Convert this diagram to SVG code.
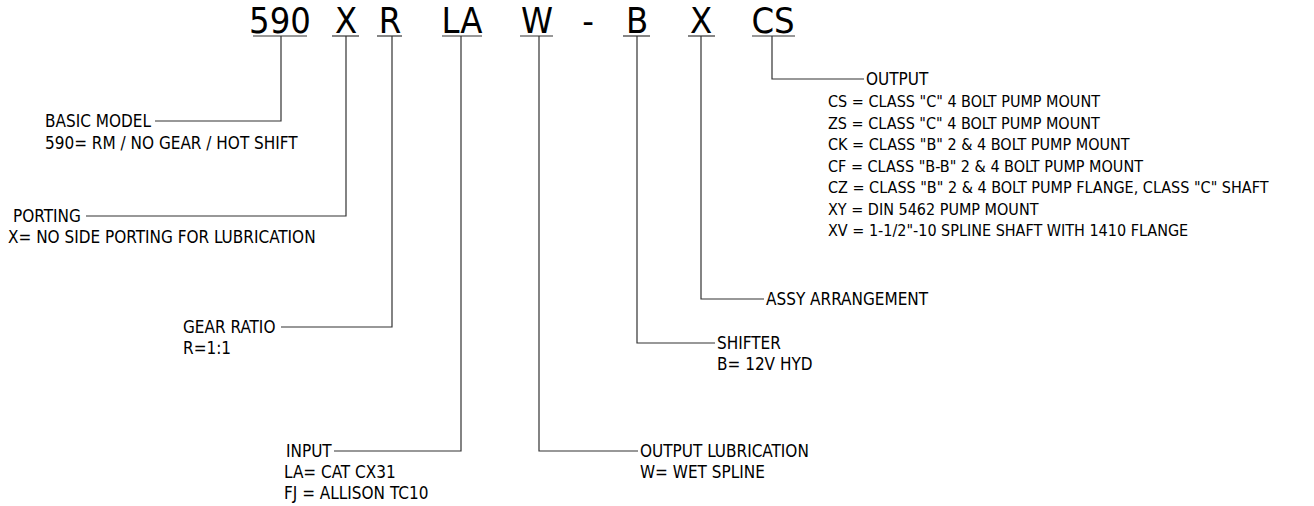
<svg xmlns="http://www.w3.org/2000/svg" width="1314" height="506" viewBox="0 0 1314 506">
<style>
text{font-family:"DejaVu Sans Condensed","DejaVu Sans",sans-serif;fill:#000}
.code{font-size:36px;text-anchor:middle}
.lbl{font-size:17px}
.out{font-size:16px}
.ln{fill:none;stroke:#333;stroke-width:1.2}
</style>
<rect width="1314" height="506" fill="#fff"/>
<g id="code-590"><text class="code" x="280" y="33">590</text><line class="ln" x1="253" y1="36" x2="307" y2="36"/></g>
<g id="code-x1"><text class="code" x="346" y="33">X</text><line class="ln" x1="332" y1="36" x2="359" y2="36"/></g>
<g id="code-r"><text class="code" x="390" y="33">R</text><line class="ln" x1="377" y1="36" x2="402" y2="36"/></g>
<g id="code-la"><text class="code" x="462" y="33">LA</text><line class="ln" x1="442" y1="36" x2="482" y2="36"/></g>
<g id="code-w"><text class="code" x="537" y="33">W</text><line class="ln" x1="520" y1="36" x2="553" y2="36"/></g>
<g id="code-dash"><text class="code" x="588" y="33">-</text></g>
<g id="code-b"><text class="code" x="637" y="33">B</text><line class="ln" x1="623" y1="36" x2="650" y2="36"/></g>
<g id="code-x2"><text class="code" x="701" y="33">X</text><line class="ln" x1="688" y1="36" x2="715" y2="36"/></g>
<g id="code-cs"><text class="code" x="773" y="33">CS</text><line class="ln" x1="752" y1="36" x2="795" y2="36"/></g>

<g id="connectors">
<path class="ln" d="M281,36 V121 H155"/>
<path class="ln" d="M346,36 V216 H86"/>
<path class="ln" d="M392,36 V327 H281"/>
<path class="ln" d="M461,36 V451 H334"/>
<path class="ln" d="M539,36 V451 H638"/>
<path class="ln" d="M637,36 V343 H715"/>
<path class="ln" d="M701,36 V299 H764"/>
<path class="ln" d="M772,36 V79 H864"/>
</g>

<g id="basic-model"><text class="lbl" x="45" y="127">BASIC MODEL</text><text class="lbl" x="45" y="149">590= RM / NO GEAR / HOT SHIFT</text></g>
<g id="porting"><text class="lbl" x="13" y="222">PORTING</text><text class="lbl" x="8" y="243">X= NO SIDE PORTING FOR LUBRICATION</text></g>
<g id="gear-ratio"><text class="lbl" x="183" y="333">GEAR RATIO</text><text class="lbl" x="183" y="354">R=1:1</text></g>
<g id="input"><text class="lbl" x="286" y="457">INPUT</text><text class="lbl" x="284" y="478">LA= CAT CX31</text><text class="lbl" x="284" y="499">FJ = ALLISON TC10</text></g>
<g id="output-lubrication"><text class="lbl" x="640" y="457">OUTPUT LUBRICATION</text><text class="lbl" x="640" y="478">W= WET SPLINE</text></g>
<g id="shifter"><text class="lbl" x="717" y="349">SHIFTER</text><text class="lbl" x="717" y="370">B= 12V HYD</text></g>
<g id="assy"><text class="lbl" x="766" y="305">ASSY ARRANGEMENT</text></g>
<g id="output">
<text class="lbl" x="866" y="85">OUTPUT</text>
<text class="out" x="828" y="107">CS = CLASS "C" 4 BOLT PUMP MOUNT</text>
<text class="out" x="828" y="128.5">ZS = CLASS "C" 4 BOLT PUMP MOUNT</text>
<text class="out" x="828" y="150">CK = CLASS "B" 2 &amp; 4 BOLT PUMP MOUNT</text>
<text class="out" x="828" y="171.5">CF = CLASS "B-B" 2 &amp; 4 BOLT PUMP MOUNT</text>
<text class="out" x="828" y="193">CZ = CLASS "B" 2 &amp; 4 BOLT PUMP FLANGE, CLASS "C" SHAFT</text>
<text class="out" x="828" y="214.5">XY = DIN 5462 PUMP MOUNT</text>
<text class="out" x="828" y="236">XV = 1-1/2"-10 SPLINE SHAFT WITH 1410 FLANGE</text>
</g>
</svg>
